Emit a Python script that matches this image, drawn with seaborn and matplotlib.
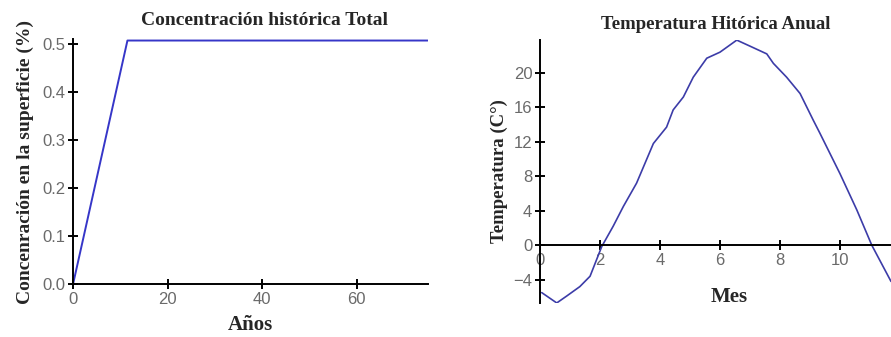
import matplotlib
matplotlib.use("Agg")
import matplotlib.pyplot as plt
import seaborn as sns
import pandas as pd

# concentration history
anios = [0, 11.5, 75]
concentracion = [0.0, 0.507, 0.507]

# annual temperature
mes = [0.06, 0.56, 0.89, 1.33, 1.67, 2.06, 2.44, 2.78, 3.22, 3.78, 4.22, 4.44,
       4.78, 5.11, 5.56, 6.0, 6.56, 7.0, 7.56, 7.78, 8.22, 8.67, 9.11, 9.33,
       10.0, 10.56, 11.06, 11.7]
temperatura = [-5.5, -6.7, -5.9, -4.8, -3.6, -0.15, 2.2, 4.5, 7.2, 11.8, 13.7, 15.7,
               17.2, 19.5, 21.7, 22.4, 23.8, 23.1, 22.2, 21.1, 19.5, 17.6, 14.5, 13.0,
               8.3, 4.1, 0.0, -4.2]

sns.set_style("white")
plt.rcParams['font.family'] = ['Liberation Sans', 'DejaVu Sans']

serif = dict(family=['Liberation Serif', 'DejaVu Serif'], fontweight='bold')
tick_color = '#6a6a6a'

fig = plt.figure(figsize=(8.91, 3.37), dpi=100)
ax1 = fig.add_axes([0.082, 0.157, 0.398, 0.727])
ax2 = fig.add_axes([0.606, 0.101, 0.394, 0.78])

df1 = pd.DataFrame({'x': anios, 'y': concentracion})
sns.lineplot(data=df1, x='x', y='y', ax=ax1, color='#3636c8', linewidth=1.4)
ax1.set_xlim(0, 75)
ax1.set_ylim(0, 0.51)
ax1.set_xticks([0, 20, 40, 60])
ax1.set_yticks([0.0, 0.1, 0.2, 0.3, 0.4, 0.5])
ax1.set_yticklabels(['0.0', '0.1', '0.2', '0.3', '0.4', '0.5'])
ax1.set_title('Concentración histórica Total', fontsize=14, pad=10, x=0.54, **serif)
ax1.set_xlabel('Años', fontsize=15, labelpad=6, **serif)
ax1.set_ylabel('Concenración en la superficie (%)', fontsize=14, labelpad=6, **serif)

df2 = pd.DataFrame({'x': mes, 'y': temperatura})
sns.lineplot(data=df2, x='x', y='y', ax=ax2, color='#3c3ca8', linewidth=1.2)
ax2.set_xlim(0, 11.7)
ax2.set_ylim(-6.7, 23.8)
ax2.set_xticks([0, 2, 4, 6, 8, 10])
ax2.set_yticks([-4, 0, 4, 8, 12, 16, 20])
ax2.spines['bottom'].set_position(('data', 0))
ax2.set_title('Temperatura Hitórica Anual', fontsize=13.5, pad=8, **serif)
ax2.set_xlabel('')
ax2.set_ylabel('Temperatura (C°)', fontsize=13.5, labelpad=4, **serif)
ax2.text(6.3, -6.0, 'Mes', ha='center', va='center', fontsize=15, **serif)

for ax in (ax1, ax2):
    sns.despine(ax=ax)
    ax.spines['left'].set_color('black')
    ax.spines['bottom'].set_color('black')
    ax.spines['left'].set_linewidth(1.4)
    ax.spines['bottom'].set_linewidth(1.4)
    ax.tick_params(bottom=True, left=True, direction='inout', length=7, width=1.4,
                   color='black', labelcolor=tick_color, labelsize=12, pad=2)
    ax.patch.set_alpha(0)

fig.savefig('out.png', dpi=100)
